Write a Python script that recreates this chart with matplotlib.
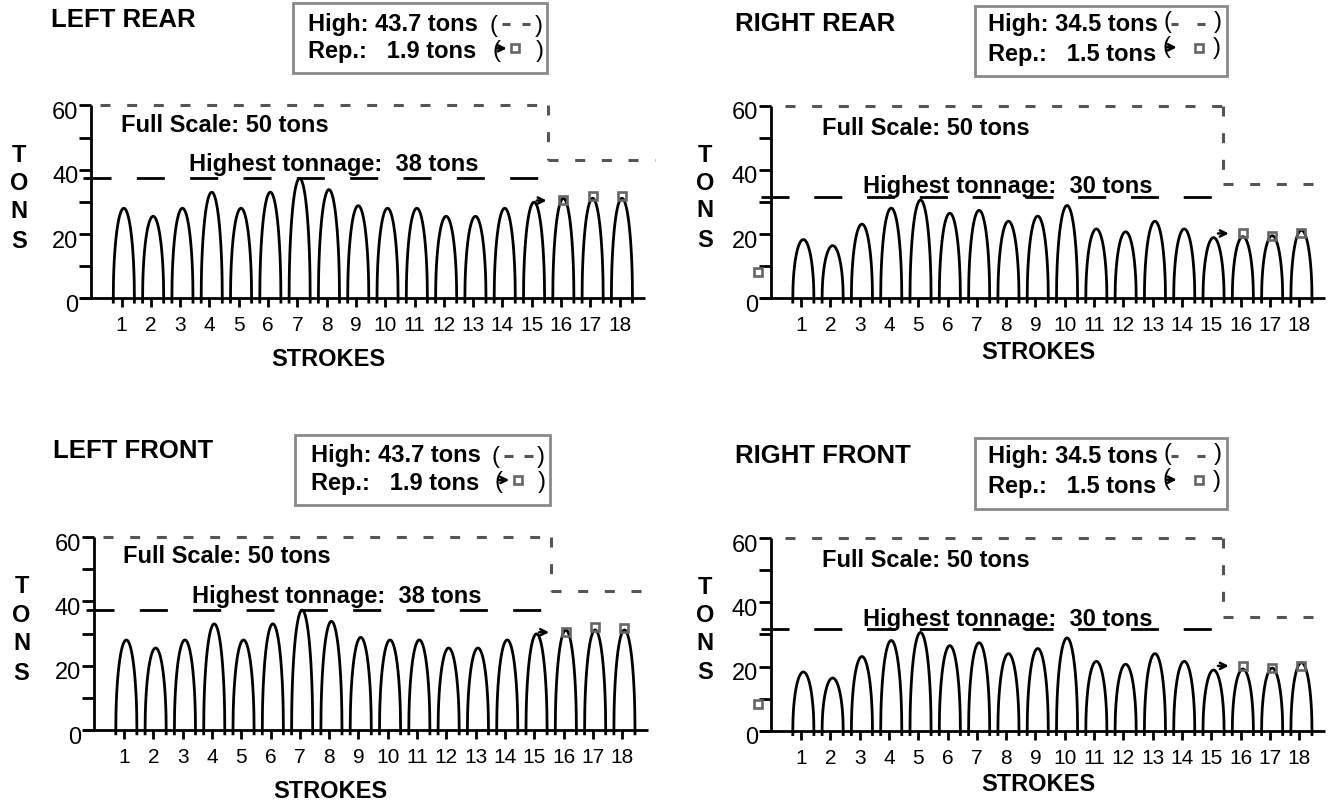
import numpy as np
import matplotlib
matplotlib.use("Agg")
import matplotlib.pyplot as plt
from matplotlib.transforms import Affine2D, ScaledTranslation
from matplotlib.patches import Rectangle, FancyArrowPatch
from matplotlib.lines import Line2D

plt.rcParams['font.family'] = ['Liberation Sans', 'DejaVu Sans']
plt.rcParams['lines.scale_dashes'] = False

# ---------------- data ----------------
strokes = list(range(1, 19))
left_rear_tons = [28.0, 25.5, 28.0, 33.0, 28.0, 33.0, 37.3, 33.8, 28.8, 28.0,
                  28.0, 25.5, 25.5, 28.0, 29.9, 31.1, 31.1, 31.1]
right_rear_tons = [18.3, 16.4, 23.1, 28.1, 30.6, 26.5, 27.4, 24.0, 25.6, 28.9,
                   21.6, 20.7, 24.0, 21.6, 18.9, 19.2, 19.5, 21.2]
left_front_tons = [28.0, 25.5, 28.0, 33.0, 28.0, 33.0, 37.3, 33.8, 28.8, 28.0,
                   28.0, 25.5, 25.5, 28.0, 29.9, 31.1, 31.1, 31.1]
right_front_tons = [18.3, 16.4, 23.1, 28.1, 30.6, 26.5, 27.4, 24.0, 25.6, 28.9,
                    21.6, 20.7, 24.0, 21.6, 18.9, 19.2, 19.5, 21.2]

rep_strokes = [16, 17, 18]
left_rep_marks = [30.6, 31.9, 31.8]
right_rep_marks = [20.2, 19.5, 20.3]
right_extra_mark = (-0.46, 8.3)

panel_titles = ['LEFT REAR', 'RIGHT REAR', 'LEFT FRONT', 'RIGHT FRONT']
high_labels = ['43.7', '34.5', '43.7', '34.5']
rep_labels = ['1.9', '1.5', '1.9', '1.5']
highest_labels = ['38', '30', '38', '30']
highest_levels = [37.3, 31.6, 37.3, 31.6]
high_levels = [43.1, 35.5, 43.1, 35.5]
full_scale_level = 60

y_major = [0, 20, 40, 60]
y_minor = [10, 30, 50]

# ---------------- layout (pixel positions in the 1335x803 frame) ----------------
W, H = 1335, 803
fig = plt.figure(figsize=(W / 100, H / 100), dpi=100)
pix = Affine2D().scale(1 / W, -1 / H).translate(0, 1) + fig.transFigure

geom = {
    'L': dict(s1=121.5, sp=29.3, z0=299.3, u=3.215,
              hl=(-0.3, 15.24), hl_gap=18.2, fs=(0.27, 15.57, 19.2),
              arrow=(15.17, 15.51, 30.4),
              title=(50.8, 26.7), box=(292.7, 4, 547, 74),
              txt_x=308.3, base=(30.7, 58.3),
              p1l=(489.3, 25.8), d1=[(501.7, 510), (521.7, 530)], d1y=25, p1r=(538.3, 25.8),
              p2l=(492.5, 50.5), a2=(496.7, 506.7, 49.3), sq=(515, 49.3), p2r=(539.3, 50.5),
              full=(120.8, 131.7), highest=(189.4, 171.0),
              tons_x=19, tons_y=[161.7, 190.0, 218.3, 248.3],
              strokes=(328, 366)),
    'R': dict(s1=801, sp=29.3, z0=299.3, u=3.21,
              hl=(-0.35, 15.02), hl_gap=17.8, fs=(0.45, 15.39, 18.75),
              arrow=(15.23, 15.6, 20.2),
              title=(735, 31), box=(975, 6.7, 1227.3, 77.3),
              txt_x=988.3, base=(31, 61),
              p1l=(1163.3, 21.7), d1=[(1170.7, 1178.3), (1196.7, 1205)], d1y=25, p1r=(1217.5, 21.7),
              p2l=(1162, 46.5), a2=(1166.7, 1176.7, 48.3), sq=(1199, 49), p2r=(1216.7, 48.3),
              full=(821.7, 135), highest=(863.3, 193.3),
              tons_x=705, tons_y=[161.7, 190.0, 217.3, 246.7],
              strokes=(1038, 359)),
}

panels = [
    dict(side='L', tons=left_rear_tons, rep=left_rep_marks, dx=0, dy=0),
    dict(side='R', tons=right_rear_tons, rep=right_rep_marks, dx=0, dy=0),
    dict(side='L', tons=left_front_tons, rep=left_rep_marks, dx=2.5, dy=431.7),
    dict(side='R', tons=right_front_tons, rep=right_rep_marks, dx=0, dy=432.4),
]

GRAY_DASH = '#555555'
BOX_EDGE = '#8a8a8a'
MARK_GRAY = '#666666'
BOLD = dict(fontweight='bold', color='black')


def draw_panel(i, p):
    g = geom[p['side']]
    dx, dy = p['dx'], p['dy']
    s1, sp, z0, u = g['s1'] + dx, g['sp'], g['z0'] + dy, g['u']
    xmin, xmax, ymin, ymax = -1.0, 19.5, -5.0, 66.0
    left = (s1 + (xmin - 1) * sp) / W
    right = (s1 + (xmax - 1) * sp) / W
    bottom = 1 - (z0 - ymin * u) / H
    top = 1 - (z0 - ymax * u) / H
    ax = fig.add_axes([left, bottom, right - left, top - bottom])
    ax.set_xlim(xmin, xmax)
    ax.set_ylim(ymin, ymax)
    ax.patch.set_visible(False)
    for s in ['top', 'right']:
        ax.spines[s].set_visible(False)
    ax.spines['left'].set_position(('data', -0.03))
    ax.spines['left'].set_bounds(0, 60)
    ax.spines['bottom'].set_position(('data', 0))
    ax.spines['bottom'].set_bounds(-0.4, 18.88)
    for s in ['left', 'bottom']:
        ax.spines[s].set_linewidth(2)
        ax.spines[s].set_capstyle('butt')

    ax.set_yticks(y_major)
    ax.set_yticklabels([str(v) for v in y_major])
    ax.set_yticks(y_minor, minor=True)
    ax.tick_params(axis='y', which='both', direction='out', length=8.4, width=2,
                   labelsize=17, pad=1)
    shift = ScaledTranslation(0, -4 / 100, fig.dpi_scale_trans)
    for lab in ax.get_yticklabels():
        lab.set_transform(lab.get_transform() + shift)
    ax.set_xticks(strokes)
    ax.set_xticklabels([str(s) for s in strokes])
    ax.tick_params(axis='x', which='major', direction='out', length=6.3, width=2,
                   labelsize=15, pad=5.8)
    ax.tick_params(axis='x', which='minor', length=0)

    # arches
    uu = np.linspace(-1, 1, 121)
    for s, h in zip(strokes, p['tons']):
        xs = s + 0.08 + 0.36 * uu
        ys = h * np.sqrt(1 - uu ** 2)
        xs = np.r_[xs[0], xs, xs[-1]]
        ys = np.r_[-1.2, ys, -1.2]
        ax.plot(xs, ys, color='black', lw=2, clip_on=False, zorder=3)

    # highest tonnage line (black long dashes)
    hl0, hl1 = g['hl']
    lvl = highest_levels[i]
    ax.plot([hl0, hl1], [lvl, lvl], color='black', lw=2,
            linestyle=(0, (20.2, g['hl_gap'])), dash_capstyle='butt', clip_on=False, zorder=2)

    # full-scale / high step line (gray short dashes)
    f0, fstep, f1 = g['fs']
    hv = high_levels[i]
    gstyle = dict(color=GRAY_DASH, lw=2.2, linestyle=(0, (7.2, 12)),
                  dash_capstyle='butt', clip_on=False, zorder=2)
    ax.plot([f0, fstep], [full_scale_level, full_scale_level], **gstyle)
    ax.plot([fstep, fstep], [full_scale_level, hv], **gstyle)
    ax.plot([fstep, f1], [hv, hv], **gstyle)

    # arrow and rep squares
    a0, a1, ay = g['arrow']
    ax.annotate('', xy=(a1, ay), xytext=(a0, ay),
                arrowprops=dict(arrowstyle='->', lw=1.8, color='black',
                                mutation_scale=11, shrinkA=0, shrinkB=0),
                annotation_clip=False, zorder=5)
    ax.plot(np.array(rep_strokes) + 0.08, p['rep'], linestyle='none', marker='s',
            ms=5.5, mfc='none', mec=MARK_GRAY, mew=1.9, clip_on=False, zorder=6)
    if p['side'] == 'R':
        ax.plot([right_extra_mark[0]], [right_extra_mark[1]], linestyle='none', marker='s',
                ms=5.5, mfc='none', mec=MARK_GRAY, mew=1.9, clip_on=False, zorder=6)

    # ---- texts in pixel frame ----
    def T(x, y, s, **kw):
        fig.text(x + dx, y + dy, s, transform=pix, **kw)

    T(g['title'][0], g['title'][1], panel_titles[i], fontsize=18.5, ha='left', va='baseline', **BOLD)
    T(g['full'][0], g['full'][1], 'Full Scale: 50 tons', fontsize=17, ha='left', va='baseline', **BOLD)
    T(g['highest'][0], g['highest'][1], 'Highest tonnage:  %s tons' % highest_labels[i],
      fontsize=17, ha='left', va='baseline', **BOLD)
    for ch, yy in zip('TONS', g['tons_y']):
        T(g['tons_x'], yy, ch, fontsize=17, ha='center', va='baseline', **BOLD)
    T(g['strokes'][0], g['strokes'][1], 'STROKES', fontsize=17, ha='center', va='baseline', **BOLD)

    # legend box
    bx0, by0, bx1, by1 = g['box']
    fig.add_artist(Rectangle((bx0 + dx, by0 + dy), bx1 - bx0, by1 - by0, transform=pix,
                             fill=False, edgecolor=BOX_EDGE, lw=2))
    T(g['txt_x'], g['base'][0], 'High: %s tons' % high_labels[i], fontsize=17,
      ha='left', va='baseline', **BOLD)
    T(g['txt_x'], g['base'][1], 'Rep.:   %s tons' % rep_labels[i], fontsize=17,
      ha='left', va='baseline', **BOLD)
    T(g['p1l'][0], g['p1l'][1], '(', fontsize=17, ha='left', va='center')
    T(g['p1r'][0], g['p1r'][1], ')', fontsize=17, ha='center', va='center')
    T(g['p2l'][0], g['p2l'][1], '(', fontsize=17, ha='left', va='center')
    T(g['p2r'][0], g['p2r'][1], ')', fontsize=17, ha='center', va='center')
    for (x0, x1) in g['d1']:
        fig.add_artist(Line2D([x0 + dx, x1 + dx], [g['d1y'] + dy] * 2, transform=pix,
                              color=GRAY_DASH, lw=2.2, solid_capstyle='butt'))
    ax0, ax1, ay2 = g['a2']
    fig.add_artist(FancyArrowPatch(
        (ax0 + dx, ay2 + dy), (ax1 + dx, ay2 + dy), transform=pix,
        arrowstyle='->', lw=1.8, color='black', mutation_scale=11, shrinkA=0, shrinkB=0))
    fig.add_artist(Line2D([g['sq'][0] + dx], [g['sq'][1] + dy], transform=pix, linestyle='none',
                          marker='s', ms=5.5, mfc='none', mec=MARK_GRAY, mew=1.9))


for i, p in enumerate(panels):
    draw_panel(i, p)

fig.savefig('out.png', dpi=100, facecolor='white')
